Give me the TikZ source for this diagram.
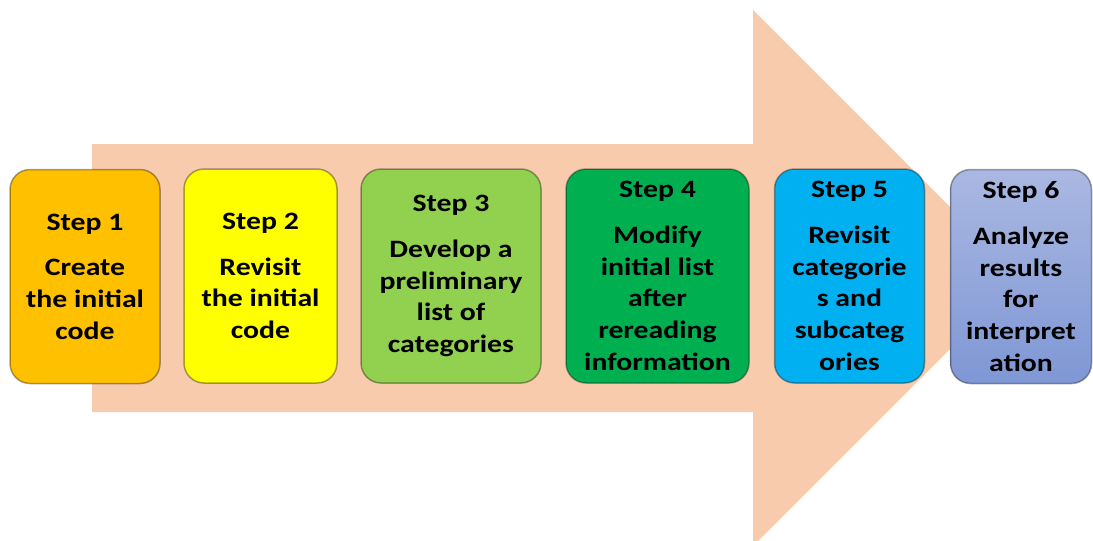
\documentclass[tikz,border=0pt]{standalone}
\usepackage{fontspec}
\setmainfont{Carlito}[FakeStretch=1.19]
\definecolor{arrowfill}{HTML}{F8CBAD}
\definecolor{cOne}{HTML}{FFC000}
\definecolor{cTwo}{HTML}{FFFF00}
\definecolor{cThree}{HTML}{92D050}
\definecolor{cFour}{HTML}{00B050}
\definecolor{cFive}{HTML}{00B0F0}
\definecolor{cSixTop}{HTML}{AAB8E2}
\definecolor{cSixBot}{HTML}{7F97D5}
\begin{document}
\begin{tikzpicture}[x=1pt,y=-1pt,
  stepbox/.style={rounded corners=20pt, draw=black, draw opacity=0.35,
    line width=1.5pt, align=center, inner sep=0pt,
    minimum height=214pt,
    font=\bfseries\fontsize{25}{31.7}\selectfont}]
\useasboundingbox (0,0) rectangle (1093,541);
\begin{scope}
\clip (0,0) rectangle (1093,541);
% big process arrow behind the steps
\fill[arrowfill] (92,144) -- (753,144) -- (753,10) -- (1021,278)
  -- (753,546) -- (753,412) -- (92,412) -- cycle;
\end{scope}
% the six steps
\node[stepbox, fill=cOne, minimum width=150pt] (s1) at (85,276.5)
  {Step 1\\[14pt]Create\\the initial\\code};
\node[stepbox, fill=cTwo, minimum width=153pt] (s2) at (260.5,276)
  {Step 2\\[14pt]Revisit\\the initial\\code};
\node[stepbox, fill=cThree, minimum width=180pt] (s3) at (451,276)
  {Step 3\\[14pt]Develop a\\preliminary\\list of\\categories};
\node[stepbox, fill=cFour, minimum width=183pt] (s4) at (657.5,276)
  {Step 4\\[14pt]Modify\\initial list\\after\\rereading\\information};
\node[stepbox, fill=cFive, minimum width=150pt] (s5) at (849.5,276)
  {Step 5\\[14pt]Revisit\\categorie\\s and\\subcateg\\ories};
\node[stepbox, top color=cSixTop, bottom color=cSixBot, minimum width=141pt] (s6) at (1021,276.5)
  {Step 6\\[14pt]Analyze\\results\\for\\interpret\\ation};
\end{tikzpicture}
\end{document}
